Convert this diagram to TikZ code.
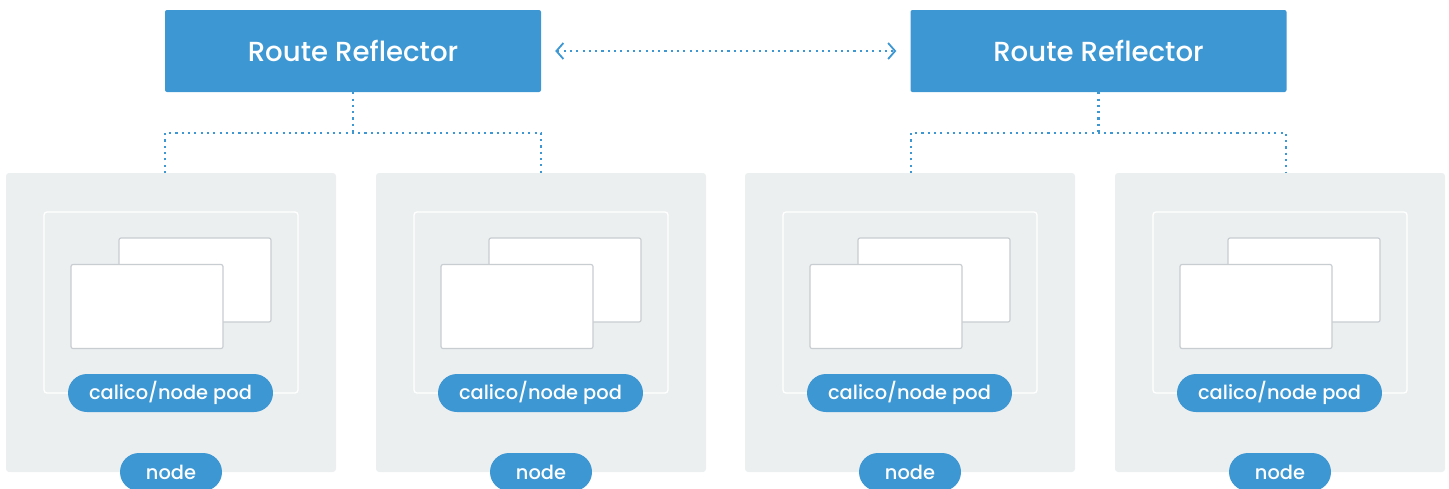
\documentclass[tikz,border=0pt]{standalone}
\usepackage{fontspec}
\setmainfont{Poppins}
\newfontfamily\popmed{Poppins Medium}
\usetikzlibrary{arrows.meta}
\definecolor{cblue}{HTML}{3D97D3}
\definecolor{cpanel}{HTML}{ECEFF0}
\definecolor{ccard}{HTML}{C8CDD1}
\tikzset{
  rrbox/.style={fill=cblue, rounded corners=2pt, minimum width=376pt, minimum height=82pt, text=white, font=\popmed\fontsize{27.6}{31}\selectfont, inner sep=0pt},
  panelbox/.style={fill=cpanel, rounded corners=3pt, minimum width=330pt, minimum height=299pt, inner sep=0pt},
  innerbox/.style={draw=white, line width=1.3pt, fill=cpanel, rounded corners=3pt, minimum width=254pt, minimum height=181pt, inner sep=0pt},
  cardbox/.style={draw=ccard, line width=1.2pt, fill=white, rounded corners=2pt, minimum width=152pt, minimum height=84pt, inner sep=0pt},
  pill/.style={fill=cblue, rounded corners=19pt, minimum height=38pt, text=white, font=\popmed\fontsize{19.4}{22}\selectfont, inner sep=0pt},
  dots/.style={draw=cblue, line width=2.1pt, dash pattern=on 2.1pt off 4.2pt},
  barb/.style={{Straight Barb[length=7pt,width=16pt,line width=1.8pt]}-{Straight Barb[length=7pt,width=16pt,line width=1.8pt]}}
}
\begin{document}
\begin{tikzpicture}[x=1pt,y=-1pt]
\useasboundingbox (0,0) rectangle (1449,488);
\clip (0,0) rectangle (1449,488);
% route reflectors
\node[rrbox] (rr1) at (353,51) {Route Reflector};
\node[rrbox] (rr2) at (1098.5,51) {Route Reflector};
\draw[dots, barb] ([xshift=14pt]rr1.east) -- ([xshift=-14pt]rr2.west);
% panels
\foreach \i/\dx in {1/0,2/370,3/739,4/1109}{
  \node[panelbox] (p\i) at (171+\dx,322.5) {};
  \node[innerbox] (in\i) at (171+\dx,302.5) {};
  \node[cardbox] (cb\i) at (195+\dx,280) {};
  \node[cardbox] (cf\i) at (147+\dx,306.5) {};
  \node[pill, minimum width=205pt] (pp\i) at (170.5+\dx,393) {calico/node pod};
  \node[pill, minimum width=102pt] (pn\i) at (171+\dx,472) {node};
}
% connectors left
\coordinate (j1) at (353,133);
\coordinate (a1) at (165,133);
\coordinate (b1) at (541,133);
\coordinate (t1) at (165,173);
\coordinate (t2) at (541,173);
\draw[dots] (rr1.south) -- (j1);
\draw[dots] (t1) -- (a1) -- (b1) -- (t2);
% connectors right
\coordinate (j2) at (1098.5,133);
\coordinate (a2) at (911,133);
\coordinate (b2) at (1286,133);
\coordinate (t3) at (911,173);
\coordinate (t4) at (1286,173);
\draw[dots] (rr2.south) -- (j2);
\draw[dots] (t3) -- (a2) -- (b2) -- (t4);
\end{tikzpicture}
\end{document}
